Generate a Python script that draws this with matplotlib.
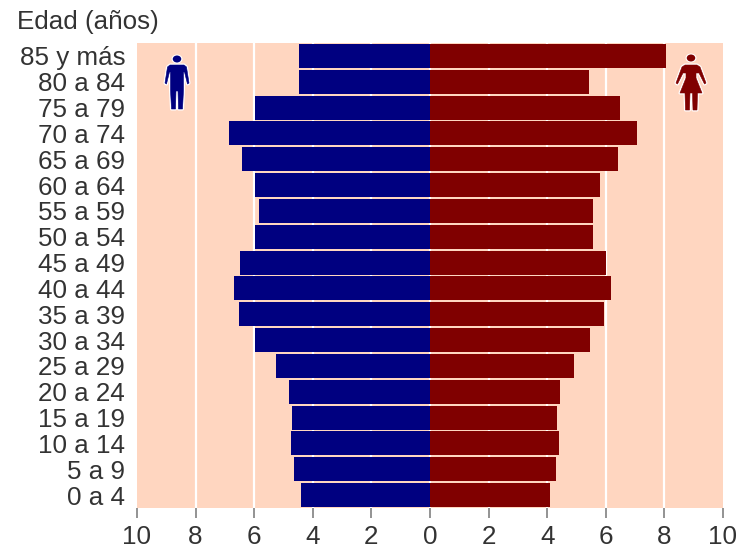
import matplotlib
matplotlib.use('Agg')
import matplotlib.pyplot as plt
from matplotlib.patches import Polygon, Ellipse
from matplotlib.transforms import IdentityTransform

plt.rcParams['font.family'] = ['Liberation Sans', 'DejaVu Sans']

# Datos (de abajo hacia arriba)
edades = ['0 a 4', '5 a 9', '10 a 14', '15 a 19', '20 a 24', '25 a 29', '30 a 34', '35 a 39', '40 a 44',
          '45 a 49', '50 a 54', '55 a 59', '60 a 64', '65 a 69', '70 a 74', '75 a 79', '80 a 84', '85 y más']
hombres = [4.4, 4.65, 4.75, 4.7, 4.8, 5.25, 5.97, 6.53, 6.7, 6.5, 5.97, 5.85, 5.97, 6.4, 6.85, 5.97, 4.47, 4.47]
mujeres = [4.1, 4.3, 4.4, 4.35, 4.45, 4.9, 5.47, 5.95, 6.17, 6.0, 5.55, 5.55, 5.8, 6.4, 7.05, 6.5, 5.42, 8.05]
marcas = [-10, -8, -6, -4, -2, 0, 2, 4, 6, 8, 10]

azul = '#000080'
rojo = '#800000'
fondo = '#FFD6C0'
texto = '#333333'
letra = 18.7

W, H = 739, 549
fig = plt.figure(figsize=(W / 100, H / 100), dpi=100)
ax = fig.add_axes([137 / W, 1 - 508 / H, 586 / W, 465 / H])
ax.set_facecolor(fondo)

y = list(range(len(edades)))
ax.barh(y, [-v for v in hombres], height=0.93, color=azul, zorder=3)
ax.barh(y, mujeres, height=0.93, color=rojo, zorder=3)

for m in marcas[1:-1]:
    ax.axvline(m, color='white', linewidth=1.6, zorder=2)

ax.set_xlim(-10, 10)
ax.set_ylim(-0.5, len(edades) - 0.5)
ax.set_yticks(y)
ax.set_yticklabels(edades, fontsize=letra, color=texto)
ax.set_xticks(marcas)
ax.set_xticklabels([abs(m) for m in marcas], fontsize=letra, color=texto)
ax.tick_params(axis='y', length=0, pad=8.5)
ax.tick_params(axis='x', length=7.5, width=1.2, color='#808080', pad=4.5)
for s in ax.spines.values():
    s.set_visible(False)

fig.text(17 / W, 1 - 22 / H, 'Edad (años)', fontsize=letra, color=texto, va='center', ha='left')


# Iconos, coordenadas en píxeles de la imagen relativas al centro del icono
def icono(cx, cabeza_y, puntos, color):
    pts = [(cx + px, H - py) for px, py in puntos]
    tr = IdentityTransform()
    fig.add_artist(Polygon(pts, closed=True, facecolor=color, edgecolor='white', linewidth=2.2,
                           joinstyle='round', transform=tr, zorder=5))
    fig.add_artist(Polygon(pts, closed=True, facecolor=color, edgecolor=color, linewidth=0.4,
                           joinstyle='round', transform=tr, zorder=6))
    fig.add_artist(Ellipse((cx, H - cabeza_y), 11, 9, facecolor='white', edgecolor='none',
                           transform=tr, zorder=6))
    fig.add_artist(Ellipse((cx, H - cabeza_y), 8.5, 7, facecolor=color, edgecolor='none',
                           transform=tr, zorder=7))


hombre = [(-7, 65), (7, 65), (9.5, 67), (12, 83), (10.5, 84), (7.5, 72), (6.5, 72), (6.5, 90), (5.5, 109),
          (1.5, 109), (1, 91), (-1, 91), (-1.5, 109), (-5.5, 109), (-6.5, 90), (-6.5, 72), (-7.5, 72),
          (-10.5, 84), (-12, 83), (-9.5, 67)]
mujer = [(-6, 65), (6, 65), (9, 67), (15, 83), (13.5, 84), (8, 73), (5, 73), (5, 78), (11, 93), (6.5, 93),
         (6, 110), (2, 110), (1.5, 93), (-1, 93), (-1.5, 110), (-5.5, 110), (-6, 93), (-11, 93), (-5, 78),
         (-5, 73), (-8, 73), (-13.5, 84), (-15, 83), (-9, 67)]
icono(177, 59, hombre, azul)
icono(691, 58, mujer, rojo)

fig.savefig('out.png', dpi=100)
